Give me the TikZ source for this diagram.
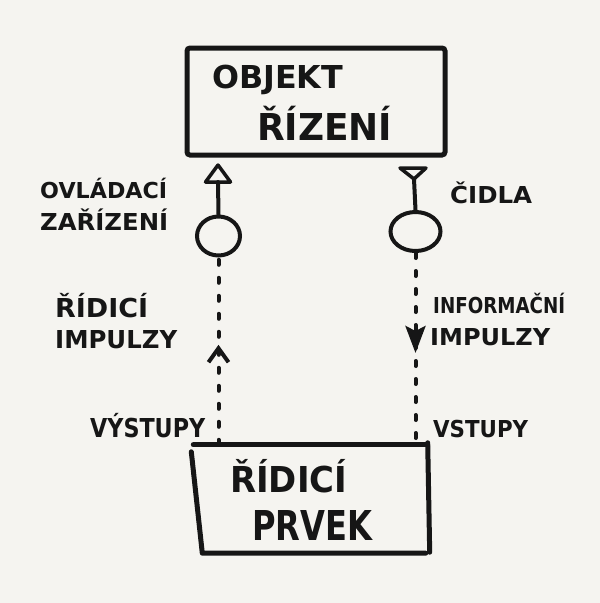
\documentclass[tikz,border=0pt]{standalone}
\usepackage{fontspec}
\usepackage{graphicx}
\usetikzlibrary{arrows.meta,shapes.geometric,decorations.markings,calc}
\newfontfamily\handfont{DejaVu Sans}[BoldFont={DejaVu Sans Bold}]
\definecolor{paper}{HTML}{F5F4F0}
\definecolor{ink}{HTML}{161616}
% lettering scaled to a given width and cap height
\newcommand\hand[3]{\resizebox{#1pt}{#2pt}{\raisebox{0pt}[\fontcharht\font`H][0pt]{#3}}}
\tikzset{
  lettering/.style={font=\handfont\bfseries, text=ink, inner sep=0pt, anchor=base west},
  blockbox/.style={draw=ink, line width=5pt, rounded corners=3pt, inner sep=0pt},
  outline/.style={draw=ink, line width=5pt, line cap=round, line join=round},
  organ/.style={ellipse, draw=ink, line width=4pt, inner sep=0pt},
  stem/.style={draw=ink, line width=4pt, line cap=round, line join=round},
  impulse/.style={draw=ink, line width=4pt, line cap=round, dash pattern=on 5pt off 13pt},
}
\begin{document}
\begin{tikzpicture}[x=1pt,y=-1pt]
\useasboundingbox[fill=paper] (0,0) rectangle (600,603);

% the two blocks
\node[blockbox, minimum width=258pt, minimum height=107pt] (obj) at (316,101.5) {};
\node[inner sep=0pt, minimum width=236pt, minimum height=108pt] (ctrl) at (311.5,499) {};
\draw[outline] ($(ctrl.north west)+(0,0)$) -- ($(ctrl.north east)+(-2,0)$);
\draw[outline] ($(ctrl.north west)+(-2,7)$) -- ($(ctrl.south west)+(9,0)$) -- ($(ctrl.south east)+(-4,0)$);
\draw[outline] ($(ctrl.north east)+(-2,-2)$) -- ($(ctrl.south east)+(0,-1)$);

% actuator and sensor
\node[organ, minimum width=43pt, minimum height=39pt] (act) at (218.5,236) {};
\node[organ, minimum width=50pt, minimum height=39pt] (sen) at (415.5,231.5) {};

\coordinate (actTip) at (218,165);
\coordinate (actBase) at (218,182);
\coordinate (senTip) at (414,179);

\draw[stem] (act.north) -- (actBase);
\draw[stem, line width=3.5pt] (actTip) -- ++(-12.5,17) -- ++(25,0) -- cycle;
\draw[stem] (sen.north) -- (senTip);
\draw[stem, line width=3.5pt] (senTip) -- ++(-14,-11) -- ++(26,0) -- cycle;

% impulse lines between the blocks
\draw[impulse, postaction={decorate}, decoration={markings,
   mark=at position 100pt with {\arrow[ink]{Straight Barb[length=14pt,width=20pt,line width=4pt]}}}]
   (ctrl.north -| act) -- (act.south);
\draw[impulse, postaction={decorate}, decoration={markings,
   mark=at position 100pt with {\arrow[ink]{Stealth[length=27pt,width=20pt,inset=5pt]}}}]
   (sen.south) -- (ctrl.north -| sen);

% lettering
\node[lettering] (t1) at (212,88) {\hand{131}{23}{OBJEKT}};
\node[lettering] (t2) at (257,140) {\hand{135}{27}{ŘÍZENÍ}};
\node[lettering] (t3) at (40,198) {\hand{127}{16}{OVLÁDACÍ}};
\node[lettering] (t4) at (40,230) {\hand{128}{17}{ZAŘÍZENÍ}};
\node[lettering] (t5) at (450,203) {\hand{82}{17}{ČIDLA}};
\node[lettering] (t6) at (55,317) {\hand{93}{19}{ŘÍDICÍ}};
\node[lettering] (t7) at (55,348) {\hand{122}{18}{IMPULZY}};
\node[lettering] (t8) at (90,437) {\hand{115}{19}{VÝSTUPY}};
\node[lettering] (t9) at (433,313) {\hand{132}{16}{INFORMAČNÍ}};
\node[lettering] (t10) at (430,345) {\hand{120}{17}{IMPULZY}};
\node[lettering] (t11) at (433,437) {\hand{95}{17}{VSTUPY}};
\node[lettering] (t12) at (230,492) {\hand{117}{26}{ŘÍDICÍ}};
\node[lettering] (t13) at (252,540) {\hand{120}{30}{PRVEK}};
\end{tikzpicture}
\end{document}
